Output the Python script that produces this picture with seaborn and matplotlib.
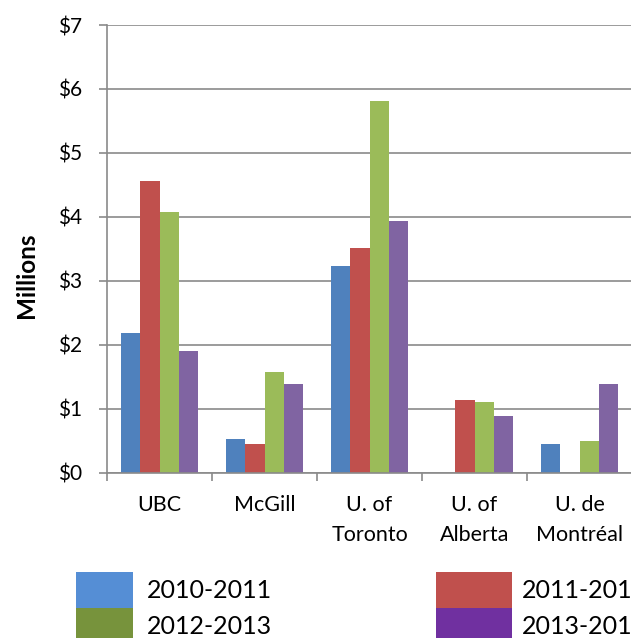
import matplotlib
matplotlib.use("Agg")
import matplotlib.pyplot as plt
from matplotlib.patches import Rectangle
from matplotlib.ticker import FixedLocator, FuncFormatter
import seaborn as sns
import pandas as pd
import numpy as np

universities = ["UBC", "McGill", "U. of\nToronto", "U. of\nAlberta", "U. de\nMontréal"]
years = ["2010-2011", "2011-2012", "2012-2013", "2013-2014"]
v2010 = [2.18, 0.52, 3.23, np.nan, 0.45]
v2011 = [4.555, 0.45, 3.51, 1.13, np.nan]
v2012 = [4.07, 1.58, 5.81, 1.10, 0.49]
v2013 = [1.91, 1.39, 3.93, 0.88, 1.38]
bar_colors = ["#4F81BD", "#C0504D", "#9BBB59", "#8064A2"]
legend_colors = ["#558ED5", "#C0504D", "#77933C", "#7030A0"]

rows = []
for yr, vals in zip(years, [v2010, v2011, v2012, v2013]):
    for u, v in zip(universities, vals):
        rows.append({"University": u, "Year": yr, "Value": v})
df = pd.DataFrame(rows)

sns.set_theme(style="white")
plt.rcParams["font.family"] = ["Lato", "DejaVu Sans"]

W, H = 631, 638
fig = plt.figure(figsize=(W / 100, H / 100), dpi=100)
x0, y0, x1, ytop = 107, 472.7, 632, 25
ax = fig.add_axes([x0 / W, (H - y0) / H, (x1 - x0) / W, (y0 - ytop) / H])

sns.barplot(data=df, x="University", y="Value", hue="Year", order=universities,
            hue_order=years, palette=bar_colors, width=0.733, saturation=1,
            linewidth=0, ax=ax, legend=False)

ax.set_xlim(-0.5, 4.5)
ax.set_ylim(0, 7)
ax.set_yticks(range(0, 8))
ax.yaxis.set_major_formatter(FuncFormatter(lambda v, p: f"${int(v)}"))
grid_c = "#8A8A8A"
ax.yaxis.grid(True, color=grid_c, linewidth=1.2)
ax.set_axisbelow(True)

for s in ["top", "right"]:
    ax.spines[s].set_visible(False)
for s in ["left", "bottom"]:
    ax.spines[s].set_color(grid_c)
    ax.spines[s].set_linewidth(1.2)

ax.tick_params(axis="y", which="major", direction="out", length=6, width=1.2,
               color=grid_c, left=True, labelsize=15, pad=12, labelcolor="black")
ax.tick_params(axis="x", which="major", length=0, labelsize=15.5, pad=16, labelcolor="black")
ax.xaxis.set_minor_locator(FixedLocator(np.arange(-0.5, 5.0, 1.0)))
ax.tick_params(axis="x", which="minor", direction="out", length=6, width=1.2,
               color=grid_c, bottom=True)
for lab in ax.get_xticklabels():
    lab.set_linespacing(1.6)
    lab.set_verticalalignment("top")

ax.set_xlabel("")
ax.set_ylabel("Millions", fontsize=17.5, fontweight="bold", color="black")
ax.yaxis.label.set_verticalalignment("center")
ax.yaxis.set_label_coords((27 - x0) / (x1 - x0), (y0 - 275) / (y0 - ytop))

# legend (drawn manually to match the cropped layout of the reference)
def fx(px):
    return px / W

def fy(py):
    return 1 - py / H

leg_items = [
    (0, 76, 133, 572, 608, 147),
    (2, 76, 133, 608, 644, 147),
    (1, 436, 512, 572, 608, 522),
    (3, 436, 512, 608, 644, 522),
]
for idx, xa, xb, ya, yb, tx in leg_items:
    fig.patches.append(Rectangle((fx(xa), fy(yb)), fx(xb) - fx(xa), fy(ya) - fy(yb),
                                 transform=fig.transFigure, facecolor=legend_colors[idx],
                                 edgecolor="none"))
    fig.text(fx(tx), fy((ya + yb) / 2 + 1), years[idx], fontsize=18, va="center",
             ha="left", color="black")

fig.savefig("out.png", dpi=100)
